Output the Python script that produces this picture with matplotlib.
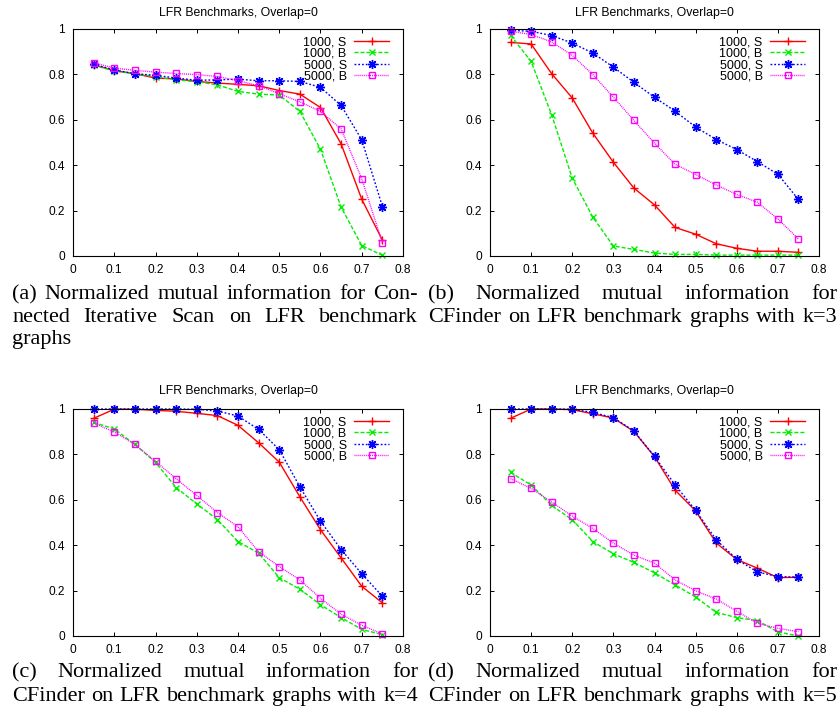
import matplotlib
matplotlib.use("Agg")
import matplotlib.pyplot as plt

# mixing parameter on the x axis
mu = [0.05, 0.10, 0.15, 0.20, 0.25, 0.30, 0.35, 0.40, 0.45, 0.50, 0.55, 0.60, 0.65, 0.70, 0.75]
series_labels = ["1000, S", "1000, B", "5000, S", "5000, B"]

x_ticks = [0, 0.1, 0.2, 0.3, 0.4, 0.5, 0.6, 0.7, 0.8]
x_tick_labels = ["0", "0.1", "0.2", "0.3", "0.4", "0.5", "0.6", "0.7", "0.8"]
y_ticks = [0, 0.2, 0.4, 0.6, 0.8, 1.0]
y_tick_labels = ["0", "0.2", "0.4", "0.6", "0.8", "1"]

title = "LFR Benchmarks, Overlap=0"

# (a) Connected Iterative Scan
cis_1000_s = [0.843, 0.816, 0.803, 0.784, 0.780, 0.769, 0.762, 0.756, 0.750, 0.729, 0.713, 0.654, 0.494, 0.250, 0.070]
cis_1000_b = [0.840, 0.816, 0.803, 0.790, 0.776, 0.768, 0.754, 0.725, 0.713, 0.709, 0.637, 0.470, 0.215, 0.046, 0.003]
cis_5000_s = [0.844, 0.820, 0.803, 0.796, 0.784, 0.774, 0.776, 0.779, 0.772, 0.772, 0.769, 0.743, 0.663, 0.512, 0.218]
cis_5000_b = [0.851, 0.828, 0.818, 0.810, 0.804, 0.799, 0.791, 0.772, 0.750, 0.715, 0.679, 0.637, 0.560, 0.340, 0.059]

# (b) CFinder k=3
k3_1000_s = [0.941, 0.934, 0.803, 0.696, 0.541, 0.413, 0.299, 0.225, 0.126, 0.096, 0.054, 0.034, 0.021, 0.021, 0.016]
k3_1000_b = [0.972, 0.857, 0.622, 0.343, 0.171, 0.044, 0.029, 0.013, 0.007, 0.007, 0.004, 0.004, 0.004, 0.004, 0.004]
k3_5000_s = [0.994, 0.990, 0.971, 0.938, 0.894, 0.832, 0.765, 0.699, 0.638, 0.568, 0.513, 0.469, 0.416, 0.360, 0.249]
k3_5000_b = [0.990, 0.976, 0.943, 0.884, 0.799, 0.700, 0.597, 0.497, 0.404, 0.359, 0.313, 0.271, 0.237, 0.163, 0.075]

# (c) CFinder k=4
k4_1000_s = [0.959, 0.999, 0.999, 0.994, 0.990, 0.981, 0.971, 0.928, 0.851, 0.766, 0.613, 0.468, 0.344, 0.219, 0.146]
k4_1000_b = [0.941, 0.912, 0.844, 0.765, 0.654, 0.582, 0.513, 0.416, 0.365, 0.257, 0.206, 0.138, 0.081, 0.029, 0.006]
k4_5000_s = [1.000, 1.000, 1.000, 1.000, 1.000, 0.999, 0.991, 0.969, 0.910, 0.821, 0.657, 0.506, 0.381, 0.274, 0.175]
k4_5000_b = [0.938, 0.899, 0.844, 0.769, 0.693, 0.619, 0.544, 0.481, 0.371, 0.306, 0.247, 0.166, 0.096, 0.047, 0.009]

# (d) CFinder k=5
k5_1000_s = [0.959, 1.000, 1.000, 0.997, 0.979, 0.960, 0.901, 0.790, 0.643, 0.551, 0.410, 0.337, 0.299, 0.257, 0.259]
k5_1000_b = [0.721, 0.665, 0.575, 0.512, 0.416, 0.362, 0.324, 0.278, 0.225, 0.172, 0.104, 0.081, 0.068, 0.018, 0.000]
k5_5000_s = [1.000, 1.000, 1.000, 0.999, 0.985, 0.962, 0.903, 0.791, 0.666, 0.553, 0.424, 0.338, 0.282, 0.262, 0.259]
k5_5000_b = [0.693, 0.651, 0.590, 0.528, 0.474, 0.409, 0.356, 0.321, 0.247, 0.199, 0.163, 0.109, 0.056, 0.034, 0.019]

captions = [
    ["(a) Normalized mutual information for Con-",
     "nected Iterative Scan on LFR benchmark",
     "graphs"],
    ["(b) Normalized mutual information for",
     "CFinder on LFR benchmark graphs with k=3"],
    ["(c) Normalized mutual information for",
     "CFinder on LFR benchmark graphs with k=4"],
    ["(d) Normalized mutual information for",
     "CFinder on LFR benchmark graphs with k=5"],
]

W, H = 840, 713

# gnuplot-like line styles
styles = [
    dict(color="#ff0000", linestyle="-", marker="+", markersize=6, mew=1.0),
    dict(color="#00ee00", dashes=(2.9, 1.4), marker="x", markersize=5, mew=1.0),
    dict(color="#0000ff", dashes=(1.3, 1.4), marker=(8, 2, 0), markersize=6.5, mew=1.0),
    dict(color="#ff00ff", dashes=(0.7, 0.7), marker="s", markersize=5, mew=1.0,
         markerfacecolor="none"),
]

# axes boxes in pixels: left, top, right, bottom
boxes = [(73, 29, 403, 256), (490, 29, 819, 256),
         (73, 409, 403, 636), (490, 409, 819, 636)]


def draw_panel(fig, box, series, title_pad):
    l, t, r, b = box
    ax = fig.add_axes([l / W, 1 - b / H, (r - l) / W, (b - t) / H])
    for ys, lab, st in zip(series, series_labels, styles):
        ax.plot(mu, ys, label=lab, lw=1.0, clip_on=False, **st)
    ax.set_xlim(0, 0.8)
    ax.set_ylim(0, 1)
    ax.set_xticks(x_ticks)
    ax.set_xticklabels(x_tick_labels)
    ax.set_yticks(y_ticks)
    ax.set_yticklabels(y_tick_labels)
    ax.tick_params(direction="in", length=3, width=0.7, top=True, right=True,
                   labelsize=8.6, pad=6)
    for sp in ax.spines.values():
        sp.set_linewidth(0.8)
    ax.set_title(title, fontsize=8.8, pad=title_pad)
    ax.legend(loc="upper right", bbox_to_anchor=(0.958, 0.968), frameon=False,
              markerfirst=False, fontsize=9, handlelength=2.8,
              handletextpad=0.6, labelspacing=-0.04, borderpad=0,
              borderaxespad=0)
    return ax


def caption_line(fig, text, x0, x1, y, justify):
    words = text.split(" ")
    objs = [fig.text(0, 0, w, fontsize=16, family="Liberation Serif",
                     va="baseline", ha="left") for w in words]
    renderer = fig.canvas.get_renderer()
    widths = [o.get_window_extent(renderer).width for o in objs]
    if justify and len(words) > 1:
        gap = (x1 - x0 - sum(widths)) / (len(words) - 1)
    else:
        gap = 5.5
    x = x0
    for o, w in zip(objs, widths):
        o.set_position((x / W, 1 - y / H))
        x += w + gap


plt.rcParams["font.family"] = ["Liberation Sans", "DejaVu Sans"]
fig = plt.figure(figsize=(W / 100, H / 100), dpi=100)

panel_series = [
    [cis_1000_s, cis_1000_b, cis_5000_s, cis_5000_b],
    [k3_1000_s, k3_1000_b, k3_5000_s, k3_5000_b],
    [k4_1000_s, k4_1000_b, k4_5000_s, k4_5000_b],
    [k5_1000_s, k5_1000_b, k5_5000_s, k5_5000_b],
]
title_pads = [9.5, 9.5, 10.5, 10.5]
for box, series, tp in zip(boxes, panel_series, title_pads):
    draw_panel(fig, box, series, tp)

# captions below each panel (justified like the paper)
cap_x = [(12, 418), (428, 837), (12, 418), (428, 837)]
cap_y = [[299, 322, 344], [299, 322], [677, 701], [677, 701]]
for lines, (x0, x1), ys in zip(captions, cap_x, cap_y):
    for i, (line, y) in enumerate(zip(lines, ys)):
        last = i == len(lines) - 1
        caption_line(fig, line, x0, x1, y, justify=not last or len(lines) == 2)

fig.savefig("out.png", dpi=100)
